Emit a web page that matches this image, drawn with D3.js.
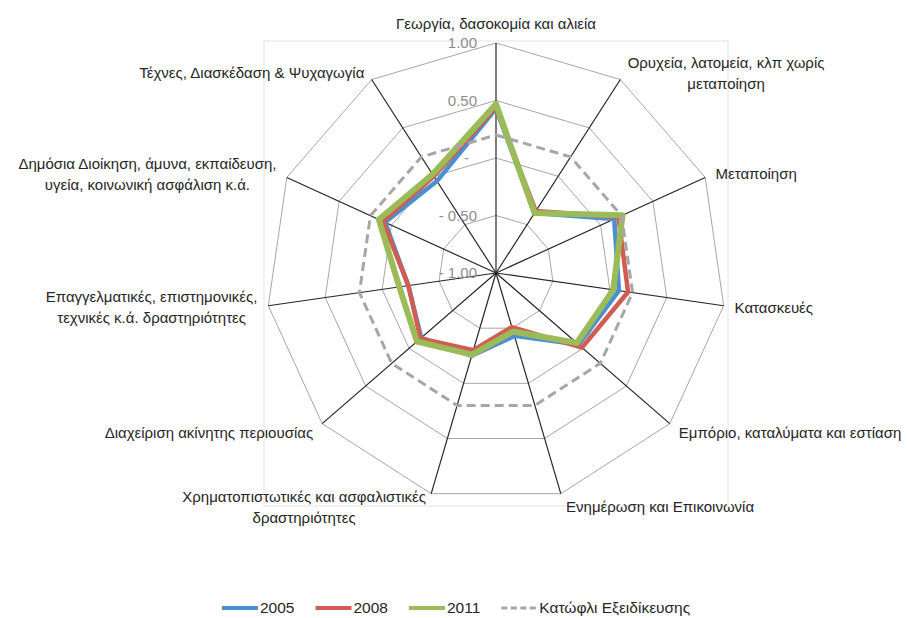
<!DOCTYPE html>
<html>
<head>
<meta charset="utf-8">
<script src="https://cdn.jsdelivr.net/npm/d3@7"></script>
<style>
  body { margin: 0; background: #fff; }
  svg { font-family: "Liberation Sans", Arial, sans-serif; }
</style>
</head>
<body>
<div class="chart"></div>
<script>
const width = 908;
const height = 618;

// categories, clockwise from the top (each entry = label lines)
const categories = [
    ["Γεωργία, δασοκομία και αλιεία"],
    ["Ορυχεία, λατομεία, κλπ χωρίς", "μεταποίηση"],
    ["Μεταποίηση"],
    ["Κατασκευές"],
    ["Εμπόριο, καταλύματα και εστίαση"],
    ["Ενημέρωση και Επικοινωνία"],
    ["Χρηματοπιστωτικές και ασφαλιστικές", "δραστηριότητες"],
    ["Διαχείριση ακίνητης περιουσίας"],
    ["Επαγγελματικές, επιστημονικές,", "τεχνικές κ.ά. δραστηριότητες"],
    ["Δημόσια Διοίκηση, άμυνα, εκπαίδευση,", "υγεία, κοινωνική ασφάλιση κ.ά."],
    ["Τέχνες, Διασκέδαση & Ψυχαγωγία"]
];

const values2005 = [0.43, -0.38, 0.13, 0.08, -0.05, -0.43, -0.25, -0.14, -0.23, 0.06, -0.05];
const values2008 = [0.44, -0.36, 0.17, 0.16, -0.01, -0.51, -0.30, -0.13, -0.23, 0.08, 0.00];
const values2011 = [0.47, -0.38, 0.21, 0.03, -0.07, -0.47, -0.26, -0.09, -0.15, 0.12, 0.02];
const threshold = [0.2, 0.2, 0.2, 0.2, 0.2, 0.2, 0.2, 0.2, 0.2, 0.2, 0.2];

const ringTicks = [-1, -0.5, 0, 0.5, 1];

const series = [
    {name: "2005", values: values2005, color: "#4a8fd2", width: 4.5},
    {name: "2008", values: values2008, color: "#d05c52", width: 4.5},
    {name: "2011", values: values2011, color: "#9bbb59", width: 6},
    {name: "Κατώφλι Εξειδίκευσης", values: threshold, color: "#a6a6a6", width: 3, dash: "9,5"}
];

const cx = 496, cy = 273, R = 230;
const n = categories.length;

let svg = d3.select(".chart")
    .append("svg")
    .attr("width", width)
    .attr("height", height);

let r = d3.scaleLinear().domain([-1, 1]).range([0, R]);
let angle = i => i * 2 * Math.PI / n;
let point = (i, v) => [cx + r(v) * Math.sin(angle(i)), cy - r(v) * Math.cos(angle(i))];

// plot area border
svg.append("rect")
    .attr("x", cx - R - 2).attr("y", cy - R - 2)
    .attr("width", 2 * R + 4).attr("height", 2 * R + 5)
    .attr("fill", "none").attr("stroke", "#e3e3e3").attr("stroke-width", 1);

// rings
svg.selectAll(".ring")
    .data(ringTicks.filter(t => t > -1))
    .enter()
    .append("polygon")
    .attr("class", "ring")
    .attr("points", t => d3.range(n).map(i => point(i, t).join(",")).join(" "))
    .attr("fill", "none")
    .attr("stroke", "#a6a6a6")
    .attr("stroke-width", 1);

// spokes
svg.selectAll(".spoke")
    .data(d3.range(n))
    .enter()
    .append("line")
    .attr("class", "spoke")
    .attr("x1", cx).attr("y1", cy)
    .attr("x2", i => point(i, 1)[0])
    .attr("y2", i => point(i, 1)[1])
    .attr("stroke", "#262626")
    .attr("stroke-width", 1.2);

// tick labels (accounting style)
let fmt = t => t === 0 ? "-" : (t < 0 ? "- " + Math.abs(t).toFixed(2) : t.toFixed(2));
svg.selectAll(".tick")
    .data(ringTicks)
    .enter()
    .append("text")
    .attr("class", "tick")
    .attr("x", t => cx - 19 - (t === 0 ? 8 : 0))
    .attr("y", t => cy - r(t))
    .attr("dy", "0.35em")
    .attr("text-anchor", "end")
    .attr("font-size", 15)
    .attr("fill", "#8c8c8c")
    .text(fmt);

// series
let line = d3.line().curve(d3.curveLinearClosed);
series.forEach(s => {
    svg.append("path")
        .attr("d", line(s.values.map((v, i) => point(i, v))))
        .attr("fill", "none")
        .attr("stroke", s.color)
        .attr("stroke-width", s.width)
        .attr("stroke-linejoin", "round")
        .attr("stroke-dasharray", s.dash || null);
});

// category labels
const lineH = 21;
categories.forEach((lines, i) => {
    let [ox, oy] = point(i, 1);
    let s = Math.sin(angle(i)), c = Math.cos(angle(i));
    let g = svg.append("g");
    let texts = lines.map(l => g.append("text")
        .attr("font-size", 15)
        .attr("fill", "#262626")
        .attr("text-anchor", "middle")
        .text(l));
    let w = d3.max(texts, t => t.node().getComputedTextLength());
    let gap = 3 + 8 * Math.abs(s);
    let xc, yc;
    if (Math.abs(s) < 0.1) {
        xc = ox;
        yc = oy - 19;
    } else {
        xc = s > 0 ? ox + gap + w / 2 : ox - gap - w / 2;
        yc = c > 0 ? oy - 8 * c : oy - 14 * c;
    }
    texts.forEach((t, k) => {
        t.attr("x", xc)
         .attr("y", yc + (k - (lines.length - 1) / 2) * lineH)
         .attr("dy", "0.35em");
    });
});

// legend
let lx = 222;
const ly = 608;
series.forEach(s => {
    svg.append("line")
        .attr("x1", lx).attr("x2", lx + 36)
        .attr("y1", ly).attr("y2", ly)
        .attr("stroke", s.color)
        .attr("stroke-width", s.dash ? 3 : 4)
        .attr("stroke-dasharray", s.dash ? "6,3.5" : null);
    let t = svg.append("text")
        .attr("x", lx + 38).attr("y", ly)
        .attr("dy", "0.35em")
        .attr("font-size", 15.5)
        .attr("fill", "#262626")
        .text(s.name);
    lx += 38 + t.node().getComputedTextLength() + 21;
});
</script>
</body>
</html>
